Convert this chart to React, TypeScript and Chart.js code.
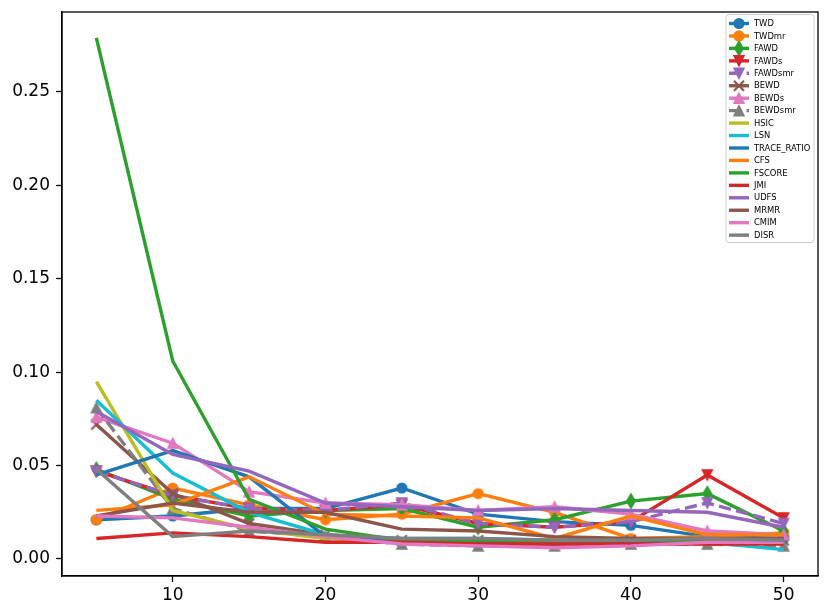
import React, { useEffect, useRef } from 'react';
import { Chart, registerables } from 'chart.js';
Chart.register(...registerables);

const xValues = [5, 10, 15, 20, 25, 30, 35, 40, 45, 50];
const xTicks = [10, 20, 30, 40, 50];
const yTicks = [0, 0.05, 0.1, 0.15, 0.2, 0.25];

const TWD = [0.021, 0.023, 0.027, 0.027, 0.038, 0.024, 0.020, 0.018, 0.012, 0.011];
const TWDmr = [0.021, 0.038, 0.029, 0.021, 0.024, 0.035, 0.025, 0.011, 0.012, 0.014];
const FAWD = [0.048, 0.032, 0.023, 0.026, 0.027, 0.017, 0.021, 0.031, 0.035, 0.015];
const FAWDs = [0.047, 0.034, 0.027, 0.026, 0.029, 0.019, 0.017, 0.020, 0.045, 0.022];
const FAWDsmr = [0.047, 0.034, 0.027, 0.026, 0.030, 0.019, 0.017, 0.020, 0.030, 0.019];
const BEWD = [0.072, 0.035, 0.019, 0.013, 0.010, 0.010, 0.009, 0.010, 0.010, 0.010];
const BEWDs = [0.076, 0.062, 0.036, 0.030, 0.029, 0.026, 0.028, 0.024, 0.015, 0.013];
const BEWDsmr = [0.081, 0.027, 0.015, 0.012, 0.008, 0.007, 0.007, 0.008, 0.008, 0.007];
const HSIC = [0.095, 0.026, 0.016, 0.011, 0.009, 0.009, 0.008, 0.009, 0.009, 0.010];
const LSN = [0.085, 0.046, 0.025, 0.013, 0.011, 0.011, 0.010, 0.011, 0.009, 0.005];
const TRACE_RATIO = [0.045, 0.058, 0.044, 0.012, 0.010, 0.009, 0.008, 0.009, 0.010, 0.011];
const CFS = [0.026, 0.029, 0.044, 0.024, 0.023, 0.022, 0.011, 0.023, 0.013, 0.013];
const FSCORE = [0.279, 0.106, 0.032, 0.016, 0.010, 0.010, 0.009, 0.010, 0.010, 0.010];
const JMI = [0.011, 0.014, 0.012, 0.009, 0.009, 0.008, 0.008, 0.008, 0.008, 0.008];
const UDFS = [0.079, 0.056, 0.047, 0.030, 0.028, 0.026, 0.027, 0.026, 0.025, 0.017];
const MRMR = [0.023, 0.030, 0.025, 0.025, 0.016, 0.015, 0.012, 0.011, 0.011, 0.011];
const CMIM = [0.023, 0.022, 0.017, 0.012, 0.008, 0.007, 0.006, 0.007, 0.009, 0.009];
const DISR = [0.048, 0.012, 0.015, 0.013, 0.011, 0.011, 0.010, 0.010, 0.011, 0.010];

const seriesNames = ['TWD', 'TWDmr', 'FAWD', 'FAWDs', 'FAWDsmr', 'BEWD', 'BEWDs', 'BEWDsmr',
  'HSIC', 'LSN', 'TRACE_RATIO', 'CFS', 'FSCORE', 'JMI', 'UDFS', 'MRMR', 'CMIM', 'DISR'];
const seriesValues = [TWD, TWDmr, FAWD, FAWDs, FAWDsmr, BEWD, BEWDs, BEWDsmr,
  HSIC, LSN, TRACE_RATIO, CFS, FSCORE, JMI, UDFS, MRMR, CMIM, DISR];
const seriesColors = ['#1f77b4', '#ff7f0e', '#2ca02c', '#d62728', '#9467bd', '#8c564b', '#e377c2', '#7f7f7f',
  '#bcbd22', '#17becf', '#1f77b4', '#ff7f0e', '#2ca02c', '#d62728', '#9467bd', '#8c564b', '#e377c2', '#7f7f7f'];
const seriesMarkers = ['circle', 'circle', 'thinDiamond', 'triDown', 'triDown', 'x', 'triUp', 'triUp',
  '', '', '', '', '', '', '', '', '', ''];
const seriesDashed = [false, false, false, false, true, false, false, true,
  false, false, false, false, false, false, false, false, false, false];

const LW = 3.4;
const DASH = [12.3, 5.3];

function drawMarker(ctx: CanvasRenderingContext2D, kind: string, color: string, cx: number, cy: number) {
  ctx.save();
  ctx.fillStyle = color;
  ctx.strokeStyle = color;
  ctx.setLineDash([]);
  ctx.lineJoin = 'miter';
  if (kind === 'circle') {
    ctx.beginPath();
    ctx.arc(cx, cy, 5.6, 0, Math.PI * 2);
    ctx.fill();
  } else if (kind === 'triUp' || kind === 'triDown') {
    const s = kind === 'triUp' ? 1 : -1;
    ctx.lineWidth = 1.5;
    ctx.beginPath();
    ctx.moveTo(cx, cy - 5 * s);
    ctx.lineTo(cx - 5, cy + 5 * s);
    ctx.lineTo(cx + 5, cy + 5 * s);
    ctx.closePath();
    ctx.fill();
    ctx.stroke();
  } else if (kind === 'thinDiamond') {
    ctx.lineWidth = 1.5;
    ctx.beginPath();
    ctx.moveTo(cx, cy - 7);
    ctx.lineTo(cx + 4.2, cy);
    ctx.lineTo(cx, cy + 7);
    ctx.lineTo(cx - 4.2, cy);
    ctx.closePath();
    ctx.fill();
    ctx.stroke();
  } else if (kind === 'x') {
    ctx.lineWidth = 2.2;
    ctx.lineCap = 'butt';
    ctx.beginPath();
    ctx.moveTo(cx - 5, cy - 5);
    ctx.lineTo(cx + 5, cy + 5);
    ctx.moveTo(cx - 5, cy + 5);
    ctx.lineTo(cx + 5, cy - 5);
    ctx.stroke();
  }
  ctx.restore();
}

function markerCanvas(kind: string, color: string): HTMLCanvasElement {
  const c = document.createElement('canvas');
  c.width = 18;
  c.height = 18;
  const ctx = c.getContext('2d') as CanvasRenderingContext2D;
  drawMarker(ctx, kind, color, 9, 9);
  return c;
}

const framePlugin = {
  id: 'frame',
  afterDatasetsDraw(chart: any) {
    const { ctx, chartArea } = chart;
    ctx.save();
    ctx.strokeStyle = '#000';
    ctx.lineWidth = 1.3;
    ctx.strokeRect(chartArea.left, chartArea.top, chartArea.right - chartArea.left, chartArea.bottom - chartArea.top);
    ctx.restore();
  },
};

const legendPlugin = {
  id: 'customLegend',
  afterDraw(chart: any) {
    const { ctx, chartArea } = chart;
    const x0 = chartArea.right - 92;
    const y0 = chartArea.top + 2.5;
    const w = 88;
    const h = 228;
    ctx.save();
    ctx.beginPath();
    const r = 3;
    ctx.moveTo(x0 + r, y0);
    ctx.lineTo(x0 + w - r, y0);
    ctx.arcTo(x0 + w, y0, x0 + w, y0 + r, r);
    ctx.lineTo(x0 + w, y0 + h - r);
    ctx.arcTo(x0 + w, y0 + h, x0 + w - r, y0 + h, r);
    ctx.lineTo(x0 + r, y0 + h);
    ctx.arcTo(x0, y0 + h, x0, y0 + h - r, r);
    ctx.lineTo(x0, y0 + r);
    ctx.arcTo(x0, y0, x0 + r, y0, r);
    ctx.closePath();
    ctx.fillStyle = 'rgba(255,255,255,0.8)';
    ctx.fill();
    ctx.strokeStyle = '#cccccc';
    ctx.lineWidth = 1;
    ctx.stroke();
    ctx.font = '8.4px "DejaVu Sans"';
    ctx.textBaseline = 'middle';
    ctx.textAlign = 'left';
    for (let i = 0; i < seriesNames.length; i++) {
      const cy = y0 + 9 + i * 12.45;
      const lx0 = x0 + 3;
      const lx1 = x0 + 23;
      ctx.save();
      ctx.strokeStyle = seriesColors[i];
      ctx.lineWidth = LW;
      ctx.lineCap = 'butt';
      ctx.setLineDash(seriesDashed[i] ? DASH : []);
      ctx.beginPath();
      ctx.moveTo(lx0, cy);
      ctx.lineTo(lx1, cy);
      ctx.stroke();
      ctx.restore();
      if (seriesMarkers[i]) drawMarker(ctx, seriesMarkers[i], seriesColors[i], (lx0 + lx1) / 2, cy);
      ctx.fillStyle = '#000';
      ctx.fillText(seriesNames[i], x0 + 28, cy + 0.5);
    }
    ctx.restore();
  },
};

export default function App() {
  const ref = useRef<HTMLCanvasElement | null>(null);
  useEffect(() => {
    const canvas = ref.current;
    if (!canvas) return;
    const datasets = seriesNames.map((name, i) => ({
      label: name,
      data: xValues.map((x, j) => ({ x, y: seriesValues[i][j] })),
      borderColor: seriesColors[i],
      backgroundColor: seriesColors[i],
      borderWidth: LW,
      borderDash: seriesDashed[i] ? DASH : [],
      pointStyle: seriesMarkers[i] ? markerCanvas(seriesMarkers[i], seriesColors[i]) : false,
      pointRadius: seriesMarkers[i] ? 6 : 0,
      pointHoverRadius: seriesMarkers[i] ? 6 : 0,
      fill: false,
      tension: 0,
      order: -i,
    }));
    const tickFont = { family: '"DejaVu Sans"', size: 17 };
    const zeroPad = (s: any) => { s.paddingTop = 0; s.paddingBottom = 0; s.paddingLeft = 0; s.paddingRight = 0; };
    const chart = new Chart(canvas, {
      type: 'line',
      data: { datasets },
      options: {
        responsive: false,
        animation: false,
        devicePixelRatio: 1,
        layout: { padding: { top: 12, right: 13, left: 0, bottom: 0 } },
        plugins: { legend: { display: false }, tooltip: { enabled: false } },
        scales: {
          x: {
            type: 'linear',
            min: 2.75,
            max: 52.25,
            afterBuildTicks: (s: any) => { s.ticks = xTicks.map((v) => ({ value: v })); },
            afterFit: (s: any) => { s.height = 40; zeroPad(s); },
            ticks: { font: tickFont, color: '#000', padding: 3, maxRotation: 0, autoSkip: false, callback: (v: any) => String(v) },
            grid: { display: true, drawOnChartArea: false, tickLength: 6, tickColor: '#000', tickWidth: 1.3 },
            border: { display: true, color: '#000', width: 1.3 },
          },
          y: {
            type: 'linear',
            min: -0.0091,
            max: 0.2928,
            afterBuildTicks: (s: any) => { s.ticks = yTicks.map((v) => ({ value: v })); },
            afterFit: (s: any) => { s.width = 62; zeroPad(s); },
            ticks: { font: tickFont, color: '#000', padding: 6, autoSkip: false, callback: (v: any) => Number(v).toFixed(2) },
            grid: { display: true, drawOnChartArea: false, tickLength: 6, tickColor: '#000', tickWidth: 1.3 },
            border: { display: true, color: '#000', width: 1.3 },
          },
        },
      },
      plugins: [framePlugin, legendPlugin],
    } as any);
    return () => chart.destroy();
  }, []);
  return (
    <div style={{ position: 'fixed', left: 0, top: 0, width: 831, height: 616, background: '#fff' }}>
      <canvas ref={ref} width={831} height={616} style={{ width: 831, height: 616, display: 'block' }} />
    </div>
  );
}
